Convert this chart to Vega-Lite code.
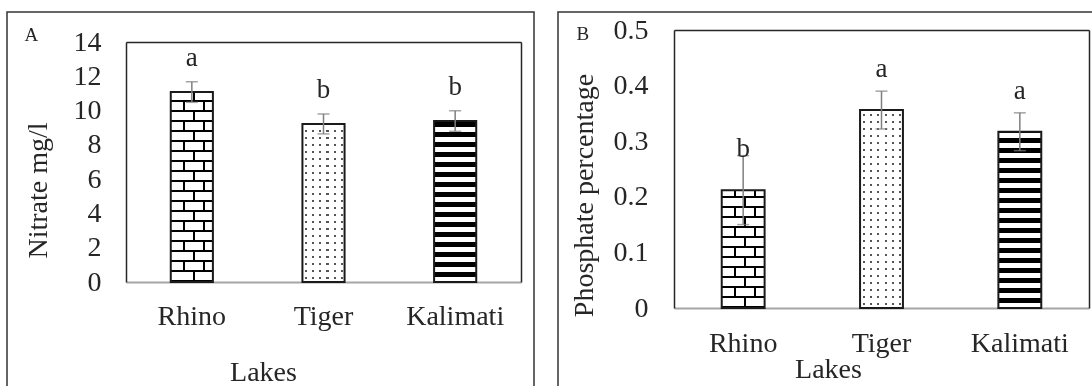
{
"$schema": "https://vega.github.io/schema/vega-lite/v6.json",
"background": "white",
"padding": {"left": 6, "top": 11, "right": 0, "bottom": 0},
"config": {"view": {"stroke": "#333333", "strokeWidth": 1.5}, "axis": {"grid": false}, "font": "Liberation Serif"},
"spacing": 22,
"datasets": {
 "nitrate": [{"lake": "Rhino", "value": 11.08, "sd": 0.6, "letter": "a"}, {"lake": "Tiger", "value": 9.22, "sd": 0.58, "letter": "b"}, {"lake": "Kalimati", "value": 9.39, "sd": 0.6, "letter": "b"}],
 "phosphate": [{"lake": "Rhino", "value": 0.212, "sd": 0.062, "letter": "b"}, {"lake": "Tiger", "value": 0.356, "sd": 0.034, "letter": "a"}, {"lake": "Kalimati", "value": 0.317, "sd": 0.034, "letter": "a"}]
},
"hconcat": [
{
 "width": 527, "height": 376,
 "data": {"name": "nitrate"},
 "encoding": {
  "x": {"field": "lake", "type": "nominal", "sort": ["Rhino", "Tiger", "Kalimati"], "scale": {"range": [119, 514], "paddingInner": 0.68, "paddingOuter": 0.34}, "axis": null},
  "y": {"field": "value", "type": "quantitative", "scale": {"domain": [0, 14], "range": [270, 30], "nice": false}, "axis": null}
 },
 "resolve": {"axis": {"x": "independent", "y": "independent"}},
 "layer": [
  {"transform": [{"filter": "datum.lake === 'Rhino'"}],
   "mark": {"type": "bar", "strokeWidth": 0, "fill": {"gradient": "linear", "x1": 0, "y1": 1, "x2": 0, "y2": -0.1056, "stops": [{"offset":0,"color":"#fff"},{"offset":0.04762,"color":"#fff"},{"offset":0.04762,"color":"#000"},{"offset":0.09524,"color":"#000"},{"offset":0.09524,"color":"#fff"},{"offset":0.14286,"color":"#fff"},{"offset":0.14286,"color":"#000"},{"offset":0.19048,"color":"#000"},{"offset":0.19048,"color":"#fff"},{"offset":0.2381,"color":"#fff"},{"offset":0.2381,"color":"#000"},{"offset":0.28571,"color":"#000"},{"offset":0.28571,"color":"#fff"},{"offset":0.33333,"color":"#fff"},{"offset":0.33333,"color":"#000"},{"offset":0.38095,"color":"#000"},{"offset":0.38095,"color":"#fff"},{"offset":0.42857,"color":"#fff"},{"offset":0.42857,"color":"#000"},{"offset":0.47619,"color":"#000"},{"offset":0.47619,"color":"#fff"},{"offset":0.52381,"color":"#fff"},{"offset":0.52381,"color":"#000"},{"offset":0.57143,"color":"#000"},{"offset":0.57143,"color":"#fff"},{"offset":0.61905,"color":"#fff"},{"offset":0.61905,"color":"#000"},{"offset":0.66667,"color":"#000"},{"offset":0.66667,"color":"#fff"},{"offset":0.71429,"color":"#fff"},{"offset":0.71429,"color":"#000"},{"offset":0.7619,"color":"#000"},{"offset":0.7619,"color":"#fff"},{"offset":0.80952,"color":"#fff"},{"offset":0.80952,"color":"#000"},{"offset":0.85714,"color":"#000"},{"offset":0.85714,"color":"#fff"},{"offset":0.90476,"color":"#fff"},{"offset":0.90476,"color":"#000"},{"offset":0.95238,"color":"#000"},{"offset":0.95238,"color":"#fff"},{"offset":1,"color":"#fff"}]}}},
  {"transform": [{"filter": "datum.lake === 'Rhino'"}],
   "mark": {"type": "bar", "strokeWidth": 0, "blend": "difference", "fill": {"gradient": "linear", "x1": 0, "y1": 0, "x2": 1, "y2": 0, "stops": [{"offset":0,"color":"#000"},{"offset":0.524,"color":"#000"},{"offset":0.524,"color":"#fff"},{"offset":0.571,"color":"#fff"},{"offset":0.571,"color":"#000"},{"offset":1,"color":"#000"}]}}},
  {"transform": [{"filter": "datum.lake === 'Rhino'"}],
   "mark": {"type": "bar", "strokeWidth": 0, "blend": "lighten", "fill": {"gradient": "linear", "x1": 0, "y1": 0, "x2": 1, "y2": 0, "stops": [{"offset":0,"color":"#fff"},{"offset":0.286,"color":"#fff"},{"offset":0.286,"color":"#000"},{"offset":0.333,"color":"#000"},{"offset":0.333,"color":"#fff"},{"offset":0.524,"color":"#fff"},{"offset":0.524,"color":"#000"},{"offset":0.571,"color":"#000"},{"offset":0.571,"color":"#fff"},{"offset":0.762,"color":"#fff"},{"offset":0.762,"color":"#000"},{"offset":0.81,"color":"#000"},{"offset":0.81,"color":"#fff"},{"offset":1,"color":"#fff"}]}}},
  {"transform": [{"filter": "datum.lake === 'Rhino'"}],
   "mark": {"type": "bar", "strokeWidth": 0, "fill": {"gradient": "linear", "x1": 0, "y1": 1, "x2": 0, "y2": -0.1056, "stops": [{"offset":0,"color":"#000"},{"offset":0.00952,"color":"#000"},{"offset":0.00952,"color":"rgba(0,0,0,0)"},{"offset":0.04762,"color":"rgba(0,0,0,0)"},{"offset":0.04762,"color":"#000"},{"offset":0.05714,"color":"#000"},{"offset":0.05714,"color":"rgba(0,0,0,0)"},{"offset":0.09524,"color":"rgba(0,0,0,0)"},{"offset":0.09524,"color":"#000"},{"offset":0.10476,"color":"#000"},{"offset":0.10476,"color":"rgba(0,0,0,0)"},{"offset":0.14286,"color":"rgba(0,0,0,0)"},{"offset":0.14286,"color":"#000"},{"offset":0.15238,"color":"#000"},{"offset":0.15238,"color":"rgba(0,0,0,0)"},{"offset":0.19048,"color":"rgba(0,0,0,0)"},{"offset":0.19048,"color":"#000"},{"offset":0.2,"color":"#000"},{"offset":0.2,"color":"rgba(0,0,0,0)"},{"offset":0.2381,"color":"rgba(0,0,0,0)"},{"offset":0.2381,"color":"#000"},{"offset":0.24762,"color":"#000"},{"offset":0.24762,"color":"rgba(0,0,0,0)"},{"offset":0.28571,"color":"rgba(0,0,0,0)"},{"offset":0.28571,"color":"#000"},{"offset":0.29524,"color":"#000"},{"offset":0.29524,"color":"rgba(0,0,0,0)"},{"offset":0.33333,"color":"rgba(0,0,0,0)"},{"offset":0.33333,"color":"#000"},{"offset":0.34286,"color":"#000"},{"offset":0.34286,"color":"rgba(0,0,0,0)"},{"offset":0.38095,"color":"rgba(0,0,0,0)"},{"offset":0.38095,"color":"#000"},{"offset":0.39048,"color":"#000"},{"offset":0.39048,"color":"rgba(0,0,0,0)"},{"offset":0.42857,"color":"rgba(0,0,0,0)"},{"offset":0.42857,"color":"#000"},{"offset":0.4381,"color":"#000"},{"offset":0.4381,"color":"rgba(0,0,0,0)"},{"offset":0.47619,"color":"rgba(0,0,0,0)"},{"offset":0.47619,"color":"#000"},{"offset":0.48571,"color":"#000"},{"offset":0.48571,"color":"rgba(0,0,0,0)"},{"offset":0.52381,"color":"rgba(0,0,0,0)"},{"offset":0.52381,"color":"#000"},{"offset":0.53333,"color":"#000"},{"offset":0.53333,"color":"rgba(0,0,0,0)"},{"offset":0.57143,"color":"rgba(0,0,0,0)"},{"offset":0.57143,"color":"#000"},{"offset":0.58095,"color":"#000"},{"offset":0.58095,"color":"rgba(0,0,0,0)"},{"offset":0.61905,"color":"rgba(0,0,0,0)"},{"offset":0.61905,"color":"#000"},{"offset":0.62857,"color":"#000"},{"offset":0.62857,"color":"rgba(0,0,0,0)"},{"offset":0.66667,"color":"rgba(0,0,0,0)"},{"offset":0.66667,"color":"#000"},{"offset":0.67619,"color":"#000"},{"offset":0.67619,"color":"rgba(0,0,0,0)"},{"offset":0.71429,"color":"rgba(0,0,0,0)"},{"offset":0.71429,"color":"#000"},{"offset":0.72381,"color":"#000"},{"offset":0.72381,"color":"rgba(0,0,0,0)"},{"offset":0.7619,"color":"rgba(0,0,0,0)"},{"offset":0.7619,"color":"#000"},{"offset":0.77143,"color":"#000"},{"offset":0.77143,"color":"rgba(0,0,0,0)"},{"offset":0.80952,"color":"rgba(0,0,0,0)"},{"offset":0.80952,"color":"#000"},{"offset":0.81905,"color":"#000"},{"offset":0.81905,"color":"rgba(0,0,0,0)"},{"offset":0.85714,"color":"rgba(0,0,0,0)"},{"offset":0.85714,"color":"#000"},{"offset":0.86667,"color":"#000"},{"offset":0.86667,"color":"rgba(0,0,0,0)"},{"offset":0.90476,"color":"rgba(0,0,0,0)"},{"offset":0.90476,"color":"#000"},{"offset":0.91429,"color":"#000"},{"offset":0.91429,"color":"rgba(0,0,0,0)"},{"offset":0.95238,"color":"rgba(0,0,0,0)"},{"offset":0.95238,"color":"#000"},{"offset":0.9619,"color":"#000"},{"offset":0.9619,"color":"rgba(0,0,0,0)"},{"offset":1,"color":"rgba(0,0,0,0)"}]}}},
  {"transform": [{"filter": "datum.lake === 'Tiger'"}],
   "mark": {"type": "bar", "strokeWidth": 0, "fill": {"gradient": "linear", "x1": 0, "y1": 0, "x2": 1, "y2": 0, "stops": [{"offset":0,"color":"#fff"},{"offset":0.0714,"color":"#fff"},{"offset":0.0714,"color":"#555"},{"offset":0.119,"color":"#555"},{"offset":0.119,"color":"#fff"},{"offset":0.238,"color":"#fff"},{"offset":0.238,"color":"#555"},{"offset":0.286,"color":"#555"},{"offset":0.286,"color":"#fff"},{"offset":0.405,"color":"#fff"},{"offset":0.405,"color":"#555"},{"offset":0.452,"color":"#555"},{"offset":0.452,"color":"#fff"},{"offset":0.571,"color":"#fff"},{"offset":0.571,"color":"#555"},{"offset":0.619,"color":"#555"},{"offset":0.619,"color":"#fff"},{"offset":0.738,"color":"#fff"},{"offset":0.738,"color":"#555"},{"offset":0.786,"color":"#555"},{"offset":0.786,"color":"#fff"},{"offset":0.905,"color":"#fff"},{"offset":0.905,"color":"#555"},{"offset":0.952,"color":"#555"},{"offset":0.952,"color":"#fff"},{"offset":1,"color":"#fff"}]}}},
  {"transform": [{"filter": "datum.lake === 'Tiger'"}],
   "mark": {"type": "bar", "strokeWidth": 0, "blend": "lighten", "fill": {"gradient": "linear", "x1": 0, "y1": 1, "x2": 0, "y2": -0.3286, "stops": [{"offset":0,"color":"#fff"},{"offset":0.01429,"color":"#fff"},{"offset":0.01429,"color":"#555"},{"offset":0.02381,"color":"#555"},{"offset":0.02381,"color":"#fff"},{"offset":0.04762,"color":"#fff"},{"offset":0.04762,"color":"#555"},{"offset":0.05714,"color":"#555"},{"offset":0.05714,"color":"#fff"},{"offset":0.08095,"color":"#fff"},{"offset":0.08095,"color":"#555"},{"offset":0.09048,"color":"#555"},{"offset":0.09048,"color":"#fff"},{"offset":0.11429,"color":"#fff"},{"offset":0.11429,"color":"#555"},{"offset":0.12381,"color":"#555"},{"offset":0.12381,"color":"#fff"},{"offset":0.14762,"color":"#fff"},{"offset":0.14762,"color":"#555"},{"offset":0.15714,"color":"#555"},{"offset":0.15714,"color":"#fff"},{"offset":0.18095,"color":"#fff"},{"offset":0.18095,"color":"#555"},{"offset":0.19048,"color":"#555"},{"offset":0.19048,"color":"#fff"},{"offset":0.21429,"color":"#fff"},{"offset":0.21429,"color":"#555"},{"offset":0.22381,"color":"#555"},{"offset":0.22381,"color":"#fff"},{"offset":0.24762,"color":"#fff"},{"offset":0.24762,"color":"#555"},{"offset":0.25714,"color":"#555"},{"offset":0.25714,"color":"#fff"},{"offset":0.28095,"color":"#fff"},{"offset":0.28095,"color":"#555"},{"offset":0.29048,"color":"#555"},{"offset":0.29048,"color":"#fff"},{"offset":0.31429,"color":"#fff"},{"offset":0.31429,"color":"#555"},{"offset":0.32381,"color":"#555"},{"offset":0.32381,"color":"#fff"},{"offset":0.34762,"color":"#fff"},{"offset":0.34762,"color":"#555"},{"offset":0.35714,"color":"#555"},{"offset":0.35714,"color":"#fff"},{"offset":0.38095,"color":"#fff"},{"offset":0.38095,"color":"#555"},{"offset":0.39048,"color":"#555"},{"offset":0.39048,"color":"#fff"},{"offset":0.41429,"color":"#fff"},{"offset":0.41429,"color":"#555"},{"offset":0.42381,"color":"#555"},{"offset":0.42381,"color":"#fff"},{"offset":0.44762,"color":"#fff"},{"offset":0.44762,"color":"#555"},{"offset":0.45714,"color":"#555"},{"offset":0.45714,"color":"#fff"},{"offset":0.48095,"color":"#fff"},{"offset":0.48095,"color":"#555"},{"offset":0.49048,"color":"#555"},{"offset":0.49048,"color":"#fff"},{"offset":0.51429,"color":"#fff"},{"offset":0.51429,"color":"#555"},{"offset":0.52381,"color":"#555"},{"offset":0.52381,"color":"#fff"},{"offset":0.54762,"color":"#fff"},{"offset":0.54762,"color":"#555"},{"offset":0.55714,"color":"#555"},{"offset":0.55714,"color":"#fff"},{"offset":0.58095,"color":"#fff"},{"offset":0.58095,"color":"#555"},{"offset":0.59048,"color":"#555"},{"offset":0.59048,"color":"#fff"},{"offset":0.61429,"color":"#fff"},{"offset":0.61429,"color":"#555"},{"offset":0.62381,"color":"#555"},{"offset":0.62381,"color":"#fff"},{"offset":0.64762,"color":"#fff"},{"offset":0.64762,"color":"#555"},{"offset":0.65714,"color":"#555"},{"offset":0.65714,"color":"#fff"},{"offset":0.68095,"color":"#fff"},{"offset":0.68095,"color":"#555"},{"offset":0.69048,"color":"#555"},{"offset":0.69048,"color":"#fff"},{"offset":0.71429,"color":"#fff"},{"offset":0.71429,"color":"#555"},{"offset":0.72381,"color":"#555"},{"offset":0.72381,"color":"#fff"},{"offset":0.74762,"color":"#fff"},{"offset":0.74762,"color":"#555"},{"offset":0.75714,"color":"#555"},{"offset":0.75714,"color":"#fff"},{"offset":0.78095,"color":"#fff"},{"offset":0.78095,"color":"#555"},{"offset":0.79048,"color":"#555"},{"offset":0.79048,"color":"#fff"},{"offset":0.81429,"color":"#fff"},{"offset":0.81429,"color":"#555"},{"offset":0.82381,"color":"#555"},{"offset":0.82381,"color":"#fff"},{"offset":0.84762,"color":"#fff"},{"offset":0.84762,"color":"#555"},{"offset":0.85714,"color":"#555"},{"offset":0.85714,"color":"#fff"},{"offset":0.88095,"color":"#fff"},{"offset":0.88095,"color":"#555"},{"offset":0.89048,"color":"#555"},{"offset":0.89048,"color":"#fff"},{"offset":0.91429,"color":"#fff"},{"offset":0.91429,"color":"#555"},{"offset":0.92381,"color":"#555"},{"offset":0.92381,"color":"#fff"},{"offset":0.94762,"color":"#fff"},{"offset":0.94762,"color":"#555"},{"offset":0.95714,"color":"#555"},{"offset":0.95714,"color":"#fff"},{"offset":0.98095,"color":"#fff"},{"offset":0.98095,"color":"#555"},{"offset":0.99048,"color":"#555"},{"offset":0.99048,"color":"#fff"},{"offset":1,"color":"#fff"}]}}},
  {"transform": [{"filter": "datum.lake === 'Kalimati'"}],
   "mark": {"type": "bar", "strokeWidth": 0, "fill": {"gradient": "linear", "x1": 0, "y1": 1, "x2": 0, "y2": -0.3046, "stops": [{"offset":0,"color":"#fff"},{"offset":0.02381,"color":"#fff"},{"offset":0.02381,"color":"#000"},{"offset":0.04762,"color":"#000"},{"offset":0.04762,"color":"#fff"},{"offset":0.07143,"color":"#fff"},{"offset":0.07143,"color":"#000"},{"offset":0.09524,"color":"#000"},{"offset":0.09524,"color":"#fff"},{"offset":0.11905,"color":"#fff"},{"offset":0.11905,"color":"#000"},{"offset":0.14286,"color":"#000"},{"offset":0.14286,"color":"#fff"},{"offset":0.16667,"color":"#fff"},{"offset":0.16667,"color":"#000"},{"offset":0.19048,"color":"#000"},{"offset":0.19048,"color":"#fff"},{"offset":0.21429,"color":"#fff"},{"offset":0.21429,"color":"#000"},{"offset":0.2381,"color":"#000"},{"offset":0.2381,"color":"#fff"},{"offset":0.2619,"color":"#fff"},{"offset":0.2619,"color":"#000"},{"offset":0.28571,"color":"#000"},{"offset":0.28571,"color":"#fff"},{"offset":0.30952,"color":"#fff"},{"offset":0.30952,"color":"#000"},{"offset":0.33333,"color":"#000"},{"offset":0.33333,"color":"#fff"},{"offset":0.35714,"color":"#fff"},{"offset":0.35714,"color":"#000"},{"offset":0.38095,"color":"#000"},{"offset":0.38095,"color":"#fff"},{"offset":0.40476,"color":"#fff"},{"offset":0.40476,"color":"#000"},{"offset":0.42857,"color":"#000"},{"offset":0.42857,"color":"#fff"},{"offset":0.45238,"color":"#fff"},{"offset":0.45238,"color":"#000"},{"offset":0.47619,"color":"#000"},{"offset":0.47619,"color":"#fff"},{"offset":0.5,"color":"#fff"},{"offset":0.5,"color":"#000"},{"offset":0.52381,"color":"#000"},{"offset":0.52381,"color":"#fff"},{"offset":0.54762,"color":"#fff"},{"offset":0.54762,"color":"#000"},{"offset":0.57143,"color":"#000"},{"offset":0.57143,"color":"#fff"},{"offset":0.59524,"color":"#fff"},{"offset":0.59524,"color":"#000"},{"offset":0.61905,"color":"#000"},{"offset":0.61905,"color":"#fff"},{"offset":0.64286,"color":"#fff"},{"offset":0.64286,"color":"#000"},{"offset":0.66667,"color":"#000"},{"offset":0.66667,"color":"#fff"},{"offset":0.69048,"color":"#fff"},{"offset":0.69048,"color":"#000"},{"offset":0.71429,"color":"#000"},{"offset":0.71429,"color":"#fff"},{"offset":0.7381,"color":"#fff"},{"offset":0.7381,"color":"#000"},{"offset":0.7619,"color":"#000"},{"offset":0.7619,"color":"#fff"},{"offset":0.78571,"color":"#fff"},{"offset":0.78571,"color":"#000"},{"offset":0.80952,"color":"#000"},{"offset":0.80952,"color":"#fff"},{"offset":0.83333,"color":"#fff"},{"offset":0.83333,"color":"#000"},{"offset":0.85714,"color":"#000"},{"offset":0.85714,"color":"#fff"},{"offset":0.88095,"color":"#fff"},{"offset":0.88095,"color":"#000"},{"offset":0.90476,"color":"#000"},{"offset":0.90476,"color":"#fff"},{"offset":0.92857,"color":"#fff"},{"offset":0.92857,"color":"#000"},{"offset":0.95238,"color":"#000"},{"offset":0.95238,"color":"#fff"},{"offset":0.97619,"color":"#fff"},{"offset":0.97619,"color":"#000"},{"offset":1,"color":"#000"}]}}},
  {"mark": {"type": "bar", "fill": "transparent", "stroke": "#1a1a1a", "strokeWidth": 2},
   "encoding": {
    "x": {"field": "lake", "type": "nominal", "sort": ["Rhino", "Tiger", "Kalimati"], "axis": {"orient": "bottom", "offset": -106, "domainColor": "#a6a6a6", "domainWidth": 2, "ticks": false, "tickSize": 0, "labelAngle": 0, "labelPadding": 20, "labelFont": "Liberation Serif", "labelFontSize": 28, "labelColor": "#262626", "title": "Lakes", "titleFont": "Liberation Serif", "titleFontSize": 28, "titleFontWeight": "normal", "titleColor": "#262626", "titleX": 256, "titleY": 98, "titleBaseline": "alphabetic", "titleAlign": "center"}},
    "y": {"field": "value", "type": "quantitative", "axis": {"orient": "left", "offset": -119, "values": [0, 2, 4, 6, 8, 10, 12, 14], "domainColor": "#262626", "domainWidth": 1.5, "ticks": false, "tickSize": 0, "labelPadding": 25, "labelFont": "Liberation Serif", "labelFontSize": 28, "labelColor": "#262626", "title": "Nitrate mg/l", "titleFont": "Liberation Serif", "titleFontSize": 28, "titleFontWeight": "normal", "titleColor": "#262626", "titleAngle": -90, "titleX": -80, "titleY": 178, "titleBaseline": "alphabetic", "titleAlign": "center"}}
   }},
  {"mark": {"type": "errorbar", "color": "#7f7f7f", "thickness": 1.5, "ticks": {"size": 12, "thickness": 1.5}},
   "encoding": {"y": {"field": "value", "type": "quantitative", "axis": null}, "yError": {"field": "sd"}}},
  {"mark": {"type": "text", "dy": -26, "baseline": "alphabetic", "font": "Liberation Serif", "fontSize": 27, "color": "#262626"},
   "encoding": {
    "text": {"field": "letter"},
    "x": {"field": "lake", "type": "nominal", "sort": ["Rhino", "Tiger", "Kalimati"], "axis": {"orient": "top", "offset": -30, "labels": false, "ticks": false, "domainColor": "#262626", "domainWidth": 1.5, "title": "A", "titleFont": "Liberation Serif", "titleFontSize": 19, "titleFontWeight": "normal", "titleColor": "#262626", "titleX": 17, "titleY": -2, "titleAlign": "left", "titleBaseline": "alphabetic", "titleAnchor": "start"}},
    "y": {"field": "value", "type": "quantitative", "axis": {"orient": "right", "offset": -13, "labels": false, "ticks": false, "title": null, "domainColor": "#262626", "domainWidth": 1.5}}
   }}
 ]
},
{
 "width": 536, "height": 376,
 "data": {"name": "phosphate"},
 "encoding": {
  "x": {"field": "lake", "type": "nominal", "sort": ["Rhino", "Tiger", "Kalimati"], "scale": {"range": [116, 531], "paddingInner": 0.69, "paddingOuter": 0.345}, "axis": null},
  "y": {"field": "value", "type": "quantitative", "scale": {"domain": [0, 0.5], "range": [296, 18], "nice": false}, "axis": null}
 },
 "resolve": {"axis": {"x": "independent", "y": "independent"}},
 "layer": [
  {"transform": [{"filter": "datum.lake === 'Rhino'"}],
   "mark": {"type": "bar", "strokeWidth": 0, "fill": {"gradient": "linear", "x1": 0, "y1": 1, "x2": 0, "y2": -0.7816, "stops": [{"offset":0,"color":"#fff"},{"offset":0.04762,"color":"#fff"},{"offset":0.04762,"color":"#000"},{"offset":0.09524,"color":"#000"},{"offset":0.09524,"color":"#fff"},{"offset":0.14286,"color":"#fff"},{"offset":0.14286,"color":"#000"},{"offset":0.19048,"color":"#000"},{"offset":0.19048,"color":"#fff"},{"offset":0.2381,"color":"#fff"},{"offset":0.2381,"color":"#000"},{"offset":0.28571,"color":"#000"},{"offset":0.28571,"color":"#fff"},{"offset":0.33333,"color":"#fff"},{"offset":0.33333,"color":"#000"},{"offset":0.38095,"color":"#000"},{"offset":0.38095,"color":"#fff"},{"offset":0.42857,"color":"#fff"},{"offset":0.42857,"color":"#000"},{"offset":0.47619,"color":"#000"},{"offset":0.47619,"color":"#fff"},{"offset":0.52381,"color":"#fff"},{"offset":0.52381,"color":"#000"},{"offset":0.57143,"color":"#000"},{"offset":0.57143,"color":"#fff"},{"offset":0.61905,"color":"#fff"},{"offset":0.61905,"color":"#000"},{"offset":0.66667,"color":"#000"},{"offset":0.66667,"color":"#fff"},{"offset":0.71429,"color":"#fff"},{"offset":0.71429,"color":"#000"},{"offset":0.7619,"color":"#000"},{"offset":0.7619,"color":"#fff"},{"offset":0.80952,"color":"#fff"},{"offset":0.80952,"color":"#000"},{"offset":0.85714,"color":"#000"},{"offset":0.85714,"color":"#fff"},{"offset":0.90476,"color":"#fff"},{"offset":0.90476,"color":"#000"},{"offset":0.95238,"color":"#000"},{"offset":0.95238,"color":"#fff"},{"offset":1,"color":"#fff"}]}}},
  {"transform": [{"filter": "datum.lake === 'Rhino'"}],
   "mark": {"type": "bar", "strokeWidth": 0, "blend": "difference", "fill": {"gradient": "linear", "x1": 0, "y1": 0, "x2": 1, "y2": 0, "stops": [{"offset":0,"color":"#000"},{"offset":0.524,"color":"#000"},{"offset":0.524,"color":"#fff"},{"offset":0.571,"color":"#fff"},{"offset":0.571,"color":"#000"},{"offset":1,"color":"#000"}]}}},
  {"transform": [{"filter": "datum.lake === 'Rhino'"}],
   "mark": {"type": "bar", "strokeWidth": 0, "blend": "lighten", "fill": {"gradient": "linear", "x1": 0, "y1": 0, "x2": 1, "y2": 0, "stops": [{"offset":0,"color":"#fff"},{"offset":0.286,"color":"#fff"},{"offset":0.286,"color":"#000"},{"offset":0.333,"color":"#000"},{"offset":0.333,"color":"#fff"},{"offset":0.524,"color":"#fff"},{"offset":0.524,"color":"#000"},{"offset":0.571,"color":"#000"},{"offset":0.571,"color":"#fff"},{"offset":0.762,"color":"#fff"},{"offset":0.762,"color":"#000"},{"offset":0.81,"color":"#000"},{"offset":0.81,"color":"#fff"},{"offset":1,"color":"#fff"}]}}},
  {"transform": [{"filter": "datum.lake === 'Rhino'"}],
   "mark": {"type": "bar", "strokeWidth": 0, "fill": {"gradient": "linear", "x1": 0, "y1": 1, "x2": 0, "y2": -0.7816, "stops": [{"offset":0,"color":"#000"},{"offset":0.00952,"color":"#000"},{"offset":0.00952,"color":"rgba(0,0,0,0)"},{"offset":0.04762,"color":"rgba(0,0,0,0)"},{"offset":0.04762,"color":"#000"},{"offset":0.05714,"color":"#000"},{"offset":0.05714,"color":"rgba(0,0,0,0)"},{"offset":0.09524,"color":"rgba(0,0,0,0)"},{"offset":0.09524,"color":"#000"},{"offset":0.10476,"color":"#000"},{"offset":0.10476,"color":"rgba(0,0,0,0)"},{"offset":0.14286,"color":"rgba(0,0,0,0)"},{"offset":0.14286,"color":"#000"},{"offset":0.15238,"color":"#000"},{"offset":0.15238,"color":"rgba(0,0,0,0)"},{"offset":0.19048,"color":"rgba(0,0,0,0)"},{"offset":0.19048,"color":"#000"},{"offset":0.2,"color":"#000"},{"offset":0.2,"color":"rgba(0,0,0,0)"},{"offset":0.2381,"color":"rgba(0,0,0,0)"},{"offset":0.2381,"color":"#000"},{"offset":0.24762,"color":"#000"},{"offset":0.24762,"color":"rgba(0,0,0,0)"},{"offset":0.28571,"color":"rgba(0,0,0,0)"},{"offset":0.28571,"color":"#000"},{"offset":0.29524,"color":"#000"},{"offset":0.29524,"color":"rgba(0,0,0,0)"},{"offset":0.33333,"color":"rgba(0,0,0,0)"},{"offset":0.33333,"color":"#000"},{"offset":0.34286,"color":"#000"},{"offset":0.34286,"color":"rgba(0,0,0,0)"},{"offset":0.38095,"color":"rgba(0,0,0,0)"},{"offset":0.38095,"color":"#000"},{"offset":0.39048,"color":"#000"},{"offset":0.39048,"color":"rgba(0,0,0,0)"},{"offset":0.42857,"color":"rgba(0,0,0,0)"},{"offset":0.42857,"color":"#000"},{"offset":0.4381,"color":"#000"},{"offset":0.4381,"color":"rgba(0,0,0,0)"},{"offset":0.47619,"color":"rgba(0,0,0,0)"},{"offset":0.47619,"color":"#000"},{"offset":0.48571,"color":"#000"},{"offset":0.48571,"color":"rgba(0,0,0,0)"},{"offset":0.52381,"color":"rgba(0,0,0,0)"},{"offset":0.52381,"color":"#000"},{"offset":0.53333,"color":"#000"},{"offset":0.53333,"color":"rgba(0,0,0,0)"},{"offset":0.57143,"color":"rgba(0,0,0,0)"},{"offset":0.57143,"color":"#000"},{"offset":0.58095,"color":"#000"},{"offset":0.58095,"color":"rgba(0,0,0,0)"},{"offset":0.61905,"color":"rgba(0,0,0,0)"},{"offset":0.61905,"color":"#000"},{"offset":0.62857,"color":"#000"},{"offset":0.62857,"color":"rgba(0,0,0,0)"},{"offset":0.66667,"color":"rgba(0,0,0,0)"},{"offset":0.66667,"color":"#000"},{"offset":0.67619,"color":"#000"},{"offset":0.67619,"color":"rgba(0,0,0,0)"},{"offset":0.71429,"color":"rgba(0,0,0,0)"},{"offset":0.71429,"color":"#000"},{"offset":0.72381,"color":"#000"},{"offset":0.72381,"color":"rgba(0,0,0,0)"},{"offset":0.7619,"color":"rgba(0,0,0,0)"},{"offset":0.7619,"color":"#000"},{"offset":0.77143,"color":"#000"},{"offset":0.77143,"color":"rgba(0,0,0,0)"},{"offset":0.80952,"color":"rgba(0,0,0,0)"},{"offset":0.80952,"color":"#000"},{"offset":0.81905,"color":"#000"},{"offset":0.81905,"color":"rgba(0,0,0,0)"},{"offset":0.85714,"color":"rgba(0,0,0,0)"},{"offset":0.85714,"color":"#000"},{"offset":0.86667,"color":"#000"},{"offset":0.86667,"color":"rgba(0,0,0,0)"},{"offset":0.90476,"color":"rgba(0,0,0,0)"},{"offset":0.90476,"color":"#000"},{"offset":0.91429,"color":"#000"},{"offset":0.91429,"color":"rgba(0,0,0,0)"},{"offset":0.95238,"color":"rgba(0,0,0,0)"},{"offset":0.95238,"color":"#000"},{"offset":0.9619,"color":"#000"},{"offset":0.9619,"color":"rgba(0,0,0,0)"},{"offset":1,"color":"rgba(0,0,0,0)"}]}}},
  {"transform": [{"filter": "datum.lake === 'Tiger'"}],
   "mark": {"type": "bar", "strokeWidth": 0, "fill": {"gradient": "linear", "x1": 0, "y1": 0, "x2": 1, "y2": 0, "stops": [{"offset":0,"color":"#fff"},{"offset":0.0714,"color":"#fff"},{"offset":0.0714,"color":"#555"},{"offset":0.119,"color":"#555"},{"offset":0.119,"color":"#fff"},{"offset":0.238,"color":"#fff"},{"offset":0.238,"color":"#555"},{"offset":0.286,"color":"#555"},{"offset":0.286,"color":"#fff"},{"offset":0.405,"color":"#fff"},{"offset":0.405,"color":"#555"},{"offset":0.452,"color":"#555"},{"offset":0.452,"color":"#fff"},{"offset":0.571,"color":"#fff"},{"offset":0.571,"color":"#555"},{"offset":0.619,"color":"#555"},{"offset":0.619,"color":"#fff"},{"offset":0.738,"color":"#fff"},{"offset":0.738,"color":"#555"},{"offset":0.786,"color":"#555"},{"offset":0.786,"color":"#fff"},{"offset":0.905,"color":"#fff"},{"offset":0.905,"color":"#555"},{"offset":0.952,"color":"#555"},{"offset":0.952,"color":"#fff"},{"offset":1,"color":"#fff"}]}}},
  {"transform": [{"filter": "datum.lake === 'Tiger'"}],
   "mark": {"type": "bar", "strokeWidth": 0, "blend": "lighten", "fill": {"gradient": "linear", "x1": 0, "y1": 1, "x2": 0, "y2": -0.0609, "stops": [{"offset":0,"color":"#fff"},{"offset":0.01429,"color":"#fff"},{"offset":0.01429,"color":"#555"},{"offset":0.02381,"color":"#555"},{"offset":0.02381,"color":"#fff"},{"offset":0.04762,"color":"#fff"},{"offset":0.04762,"color":"#555"},{"offset":0.05714,"color":"#555"},{"offset":0.05714,"color":"#fff"},{"offset":0.08095,"color":"#fff"},{"offset":0.08095,"color":"#555"},{"offset":0.09048,"color":"#555"},{"offset":0.09048,"color":"#fff"},{"offset":0.11429,"color":"#fff"},{"offset":0.11429,"color":"#555"},{"offset":0.12381,"color":"#555"},{"offset":0.12381,"color":"#fff"},{"offset":0.14762,"color":"#fff"},{"offset":0.14762,"color":"#555"},{"offset":0.15714,"color":"#555"},{"offset":0.15714,"color":"#fff"},{"offset":0.18095,"color":"#fff"},{"offset":0.18095,"color":"#555"},{"offset":0.19048,"color":"#555"},{"offset":0.19048,"color":"#fff"},{"offset":0.21429,"color":"#fff"},{"offset":0.21429,"color":"#555"},{"offset":0.22381,"color":"#555"},{"offset":0.22381,"color":"#fff"},{"offset":0.24762,"color":"#fff"},{"offset":0.24762,"color":"#555"},{"offset":0.25714,"color":"#555"},{"offset":0.25714,"color":"#fff"},{"offset":0.28095,"color":"#fff"},{"offset":0.28095,"color":"#555"},{"offset":0.29048,"color":"#555"},{"offset":0.29048,"color":"#fff"},{"offset":0.31429,"color":"#fff"},{"offset":0.31429,"color":"#555"},{"offset":0.32381,"color":"#555"},{"offset":0.32381,"color":"#fff"},{"offset":0.34762,"color":"#fff"},{"offset":0.34762,"color":"#555"},{"offset":0.35714,"color":"#555"},{"offset":0.35714,"color":"#fff"},{"offset":0.38095,"color":"#fff"},{"offset":0.38095,"color":"#555"},{"offset":0.39048,"color":"#555"},{"offset":0.39048,"color":"#fff"},{"offset":0.41429,"color":"#fff"},{"offset":0.41429,"color":"#555"},{"offset":0.42381,"color":"#555"},{"offset":0.42381,"color":"#fff"},{"offset":0.44762,"color":"#fff"},{"offset":0.44762,"color":"#555"},{"offset":0.45714,"color":"#555"},{"offset":0.45714,"color":"#fff"},{"offset":0.48095,"color":"#fff"},{"offset":0.48095,"color":"#555"},{"offset":0.49048,"color":"#555"},{"offset":0.49048,"color":"#fff"},{"offset":0.51429,"color":"#fff"},{"offset":0.51429,"color":"#555"},{"offset":0.52381,"color":"#555"},{"offset":0.52381,"color":"#fff"},{"offset":0.54762,"color":"#fff"},{"offset":0.54762,"color":"#555"},{"offset":0.55714,"color":"#555"},{"offset":0.55714,"color":"#fff"},{"offset":0.58095,"color":"#fff"},{"offset":0.58095,"color":"#555"},{"offset":0.59048,"color":"#555"},{"offset":0.59048,"color":"#fff"},{"offset":0.61429,"color":"#fff"},{"offset":0.61429,"color":"#555"},{"offset":0.62381,"color":"#555"},{"offset":0.62381,"color":"#fff"},{"offset":0.64762,"color":"#fff"},{"offset":0.64762,"color":"#555"},{"offset":0.65714,"color":"#555"},{"offset":0.65714,"color":"#fff"},{"offset":0.68095,"color":"#fff"},{"offset":0.68095,"color":"#555"},{"offset":0.69048,"color":"#555"},{"offset":0.69048,"color":"#fff"},{"offset":0.71429,"color":"#fff"},{"offset":0.71429,"color":"#555"},{"offset":0.72381,"color":"#555"},{"offset":0.72381,"color":"#fff"},{"offset":0.74762,"color":"#fff"},{"offset":0.74762,"color":"#555"},{"offset":0.75714,"color":"#555"},{"offset":0.75714,"color":"#fff"},{"offset":0.78095,"color":"#fff"},{"offset":0.78095,"color":"#555"},{"offset":0.79048,"color":"#555"},{"offset":0.79048,"color":"#fff"},{"offset":0.81429,"color":"#fff"},{"offset":0.81429,"color":"#555"},{"offset":0.82381,"color":"#555"},{"offset":0.82381,"color":"#fff"},{"offset":0.84762,"color":"#fff"},{"offset":0.84762,"color":"#555"},{"offset":0.85714,"color":"#555"},{"offset":0.85714,"color":"#fff"},{"offset":0.88095,"color":"#fff"},{"offset":0.88095,"color":"#555"},{"offset":0.89048,"color":"#555"},{"offset":0.89048,"color":"#fff"},{"offset":0.91429,"color":"#fff"},{"offset":0.91429,"color":"#555"},{"offset":0.92381,"color":"#555"},{"offset":0.92381,"color":"#fff"},{"offset":0.94762,"color":"#fff"},{"offset":0.94762,"color":"#555"},{"offset":0.95714,"color":"#555"},{"offset":0.95714,"color":"#fff"},{"offset":0.98095,"color":"#fff"},{"offset":0.98095,"color":"#555"},{"offset":0.99048,"color":"#555"},{"offset":0.99048,"color":"#fff"},{"offset":1,"color":"#fff"}]}}},
  {"transform": [{"filter": "datum.lake === 'Kalimati'"}],
   "mark": {"type": "bar", "strokeWidth": 0, "fill": {"gradient": "linear", "x1": 0, "y1": 1, "x2": 0, "y2": -0.1915, "stops": [{"offset":0,"color":"#fff"},{"offset":0.02381,"color":"#fff"},{"offset":0.02381,"color":"#000"},{"offset":0.04762,"color":"#000"},{"offset":0.04762,"color":"#fff"},{"offset":0.07143,"color":"#fff"},{"offset":0.07143,"color":"#000"},{"offset":0.09524,"color":"#000"},{"offset":0.09524,"color":"#fff"},{"offset":0.11905,"color":"#fff"},{"offset":0.11905,"color":"#000"},{"offset":0.14286,"color":"#000"},{"offset":0.14286,"color":"#fff"},{"offset":0.16667,"color":"#fff"},{"offset":0.16667,"color":"#000"},{"offset":0.19048,"color":"#000"},{"offset":0.19048,"color":"#fff"},{"offset":0.21429,"color":"#fff"},{"offset":0.21429,"color":"#000"},{"offset":0.2381,"color":"#000"},{"offset":0.2381,"color":"#fff"},{"offset":0.2619,"color":"#fff"},{"offset":0.2619,"color":"#000"},{"offset":0.28571,"color":"#000"},{"offset":0.28571,"color":"#fff"},{"offset":0.30952,"color":"#fff"},{"offset":0.30952,"color":"#000"},{"offset":0.33333,"color":"#000"},{"offset":0.33333,"color":"#fff"},{"offset":0.35714,"color":"#fff"},{"offset":0.35714,"color":"#000"},{"offset":0.38095,"color":"#000"},{"offset":0.38095,"color":"#fff"},{"offset":0.40476,"color":"#fff"},{"offset":0.40476,"color":"#000"},{"offset":0.42857,"color":"#000"},{"offset":0.42857,"color":"#fff"},{"offset":0.45238,"color":"#fff"},{"offset":0.45238,"color":"#000"},{"offset":0.47619,"color":"#000"},{"offset":0.47619,"color":"#fff"},{"offset":0.5,"color":"#fff"},{"offset":0.5,"color":"#000"},{"offset":0.52381,"color":"#000"},{"offset":0.52381,"color":"#fff"},{"offset":0.54762,"color":"#fff"},{"offset":0.54762,"color":"#000"},{"offset":0.57143,"color":"#000"},{"offset":0.57143,"color":"#fff"},{"offset":0.59524,"color":"#fff"},{"offset":0.59524,"color":"#000"},{"offset":0.61905,"color":"#000"},{"offset":0.61905,"color":"#fff"},{"offset":0.64286,"color":"#fff"},{"offset":0.64286,"color":"#000"},{"offset":0.66667,"color":"#000"},{"offset":0.66667,"color":"#fff"},{"offset":0.69048,"color":"#fff"},{"offset":0.69048,"color":"#000"},{"offset":0.71429,"color":"#000"},{"offset":0.71429,"color":"#fff"},{"offset":0.7381,"color":"#fff"},{"offset":0.7381,"color":"#000"},{"offset":0.7619,"color":"#000"},{"offset":0.7619,"color":"#fff"},{"offset":0.78571,"color":"#fff"},{"offset":0.78571,"color":"#000"},{"offset":0.80952,"color":"#000"},{"offset":0.80952,"color":"#fff"},{"offset":0.83333,"color":"#fff"},{"offset":0.83333,"color":"#000"},{"offset":0.85714,"color":"#000"},{"offset":0.85714,"color":"#fff"},{"offset":0.88095,"color":"#fff"},{"offset":0.88095,"color":"#000"},{"offset":0.90476,"color":"#000"},{"offset":0.90476,"color":"#fff"},{"offset":0.92857,"color":"#fff"},{"offset":0.92857,"color":"#000"},{"offset":0.95238,"color":"#000"},{"offset":0.95238,"color":"#fff"},{"offset":0.97619,"color":"#fff"},{"offset":0.97619,"color":"#000"},{"offset":1,"color":"#000"}]}}},
  {"mark": {"type": "bar", "fill": "transparent", "stroke": "#1a1a1a", "strokeWidth": 2},
   "encoding": {
    "x": {"field": "lake", "type": "nominal", "sort": ["Rhino", "Tiger", "Kalimati"], "axis": {"orient": "bottom", "offset": -80, "domainColor": "#a6a6a6", "domainWidth": 2, "ticks": false, "tickSize": 0, "labelAngle": 0, "labelPadding": 21, "labelFont": "Liberation Serif", "labelFontSize": 28, "labelColor": "#262626", "title": "Lakes", "titleFont": "Liberation Serif", "titleFontSize": 28, "titleFontWeight": "normal", "titleColor": "#262626", "titleX": 270, "titleY": 69, "titleBaseline": "alphabetic", "titleAlign": "center"}},
    "y": {"field": "value", "type": "quantitative", "axis": {"orient": "left", "offset": -116, "values": [0, 0.1, 0.2, 0.3, 0.4, 0.5], "format": "~g", "domainColor": "#262626", "domainWidth": 1.5, "ticks": false, "tickSize": 0, "labelPadding": 26, "labelFont": "Liberation Serif", "labelFontSize": 28, "labelColor": "#262626", "title": "Phosphate percentage", "titleFont": "Liberation Serif", "titleFontSize": 28, "titleFontWeight": "normal", "titleColor": "#262626", "titleAngle": -90, "titleX": -82, "titleY": 183, "titleBaseline": "alphabetic", "titleAlign": "center"}}
   }},
  {"mark": {"type": "errorbar", "color": "#7f7f7f", "thickness": 1.5, "ticks": {"size": 12, "thickness": 1.5}},
   "encoding": {"y": {"field": "value", "type": "quantitative", "axis": null}, "yError": {"field": "sd"}}},
  {"mark": {"type": "text", "dy": -33, "baseline": "alphabetic", "font": "Liberation Serif", "fontSize": 27, "color": "#262626"},
   "encoding": {
    "text": {"field": "letter"},
    "x": {"field": "lake", "type": "nominal", "sort": ["Rhino", "Tiger", "Kalimati"], "axis": {"orient": "top", "offset": -18, "labels": false, "ticks": false, "domainColor": "#262626", "domainWidth": 1.5, "title": "B", "titleFont": "Liberation Serif", "titleFontSize": 19, "titleFontWeight": "normal", "titleColor": "#262626", "titleX": 18, "titleY": 9, "titleAlign": "left", "titleBaseline": "alphabetic", "titleAnchor": "start"}},
    "y": {"field": "value", "type": "quantitative", "axis": {"orient": "right", "offset": -5, "labels": false, "ticks": false, "title": null, "domainColor": "#262626", "domainWidth": 1.5}}
   }}
 ]
}
]
}
